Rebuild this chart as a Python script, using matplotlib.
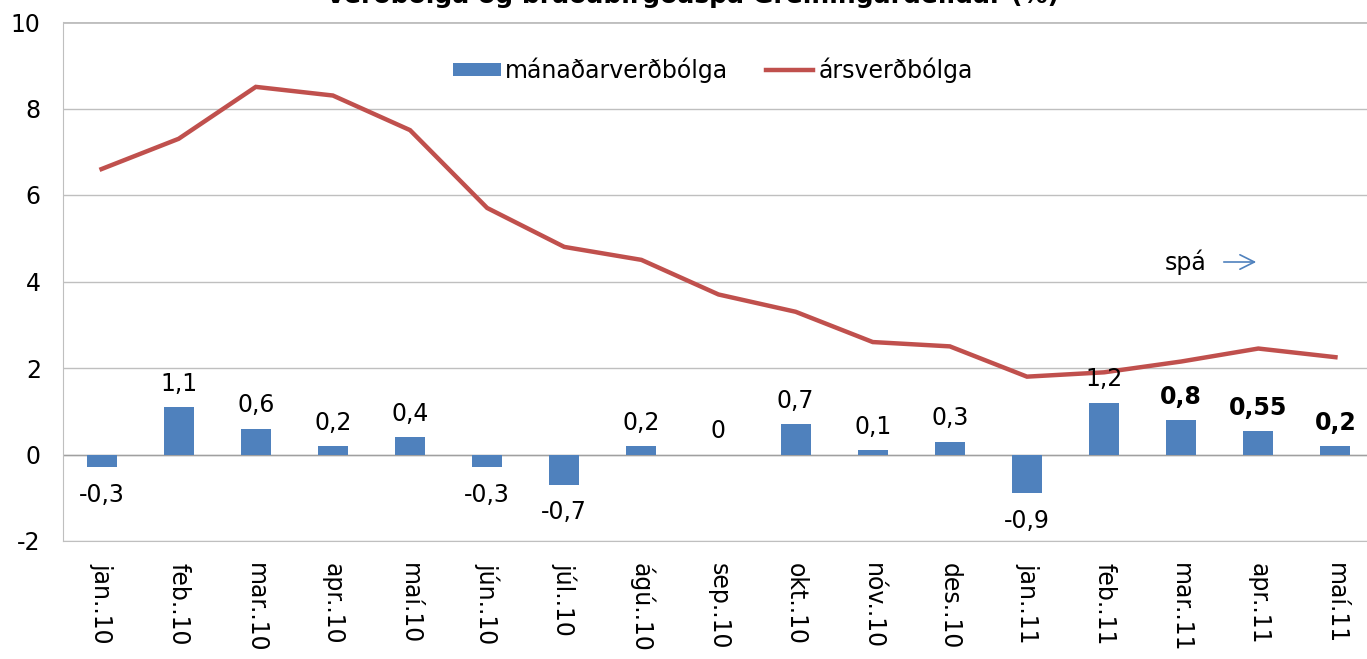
import numpy as np
import matplotlib.pyplot as plt

# Data
months = ["jan..10", "feb..10", "mar..10", "apr..10", "maí.10", "jún..10",
          "júl..10", "ágú..10", "sep..10", "okt..10", "nóv..10", "des..10",
          "jan..11", "feb..11", "mar..11", "apr..11", "maí.11"]
monthly = [-0.3, 1.1, 0.6, 0.2, 0.4, -0.3, -0.7, 0.2, 0, 0.7, 0.1, 0.3,
           -0.9, 1.2, 0.8, 0.55, 0.2]
monthly_labels = ["-0,3", "1,1", "0,6", "0,2", "0,4", "-0,3", "-0,7", "0,2", "0",
                  "0,7", "0,1", "0,3", "-0,9", "1,2", "0,8", "0,55", "0,2"]
annual = [6.6, 7.3, 8.5, 8.3, 7.5, 5.7, 4.8, 4.5, 3.7, 3.3, 2.6, 2.5,
          1.8, 1.9, 2.15, 2.45, 2.25]
forecast_start = 14  # the last three months are forecasts (bold labels)

BAR_COLOR = "#4F81BD"
LINE_COLOR = "#C0504D"
GRID_COLOR = "#BFBFBF"
FS = 17

plt.rcParams["font.family"] = ["DejaVu Sans"]

fig = plt.figure(figsize=(13.67, 6.59), dpi=100)
# plot area: x 63..1374 px, y 22..541 px
ax = fig.add_axes([63 / 1367, 1 - 541 / 659, 1311 / 1367, 519 / 659])

x = np.arange(len(months))
ax.bar(x, monthly, width=0.39, color=BAR_COLOR, label="mánaðarverðbólga", zorder=3)
ax.plot(x, annual, color=LINE_COLOR, linewidth=3.2, label="ársverðbólga",
        zorder=4, solid_joinstyle="miter")

# bar value labels
for i, (v, lab) in enumerate(zip(monthly, monthly_labels)):
    bold = i >= forecast_start
    if v >= 0:
        ax.annotate(lab, (i, v), xytext=(0, 8), textcoords="offset points",
                    ha="center", va="bottom", fontsize=FS,
                    fontweight="bold" if bold else "normal", zorder=5)
    else:
        ax.annotate(lab, (i, v), xytext=(0, -11), textcoords="offset points",
                    ha="center", va="top", fontsize=FS, zorder=5)

ax.set_xlim(-0.5, len(months) - 0.5)
ax.set_ylim(-2, 10)
ax.set_yticks(range(-2, 11, 2))
ax.set_yticklabels([str(t) for t in range(-2, 11, 2)], fontsize=FS)
ax.set_xticks(x)
ax.set_xticklabels(months, rotation=270, fontsize=FS, va="top", ha="center")
ax.tick_params(axis="both", length=0)
ax.tick_params(axis="y", pad=16)
ax.tick_params(axis="x", pad=16)

ax.grid(axis="y", color=GRID_COLOR, linewidth=1, zorder=0)
for side in ["top", "right"]:
    ax.spines[side].set_visible(False)
ax.spines["left"].set_color(GRID_COLOR)
ax.spines["bottom"].set_color(GRID_COLOR)
ax.axhline(0, color="#A0A0A0", linewidth=1, zorder=2)
ax.axhline(10, color=GRID_COLOR, linewidth=2, zorder=1)

handles, labels = ax.get_legend_handles_labels()
order = [labels.index("mánaðarverðbólga"), labels.index("ársverðbólga")]
ax.legend([handles[k] for k in order], [labels[k] for k in order],
          loc="center", bbox_to_anchor=(650 / 1311, 1 - 48 / 519), ncol=2,
          frameon=False, fontsize=FS, handlelength=2.0, handleheight=0.5,
          columnspacing=1.6, handletextpad=0.2)

# forecast marker
ax.text(1165 / 1367, 1 - 262 / 659, "spá", transform=fig.transFigure,
        ha="left", va="center", fontsize=FS)
ax.annotate("", xy=(1259 / 1367, 1 - 262 / 659), xytext=(1221 / 1367, 1 - 262 / 659),
            xycoords="figure fraction", textcoords="figure fraction",
            arrowprops=dict(arrowstyle="->", color=BAR_COLOR, lw=1.2,
                            mutation_scale=26))

# title sits mostly above the canvas, as in the reference
fig.text(692 / 1367, 1 + 5 / 659, "Verðbólga og bráðabirgðaspá Greiningardeildar (%)",
         ha="center", va="center", fontsize=18, fontweight="bold")

fig.savefig("out.png", dpi=100)
